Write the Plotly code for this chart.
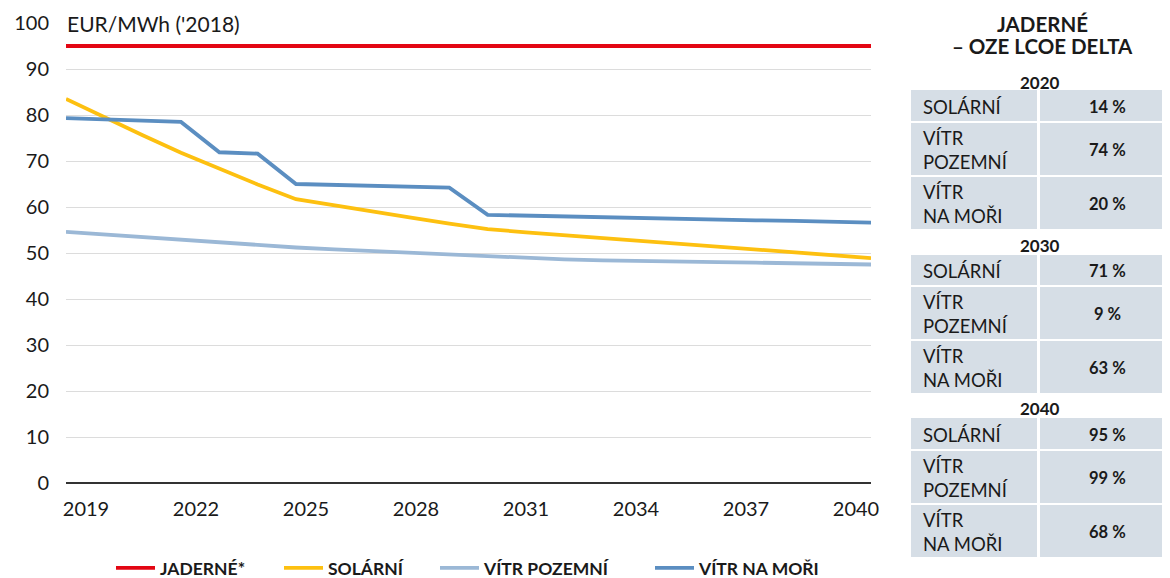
import plotly.graph_objects as go

years = list(range(2019, 2041))
nuclear = [95] * 22
solar = [83.5, 79.5, 75.6, 71.8, 68.3, 64.9, 61.7, 60.3, 59.0, 57.7, 56.4, 55.2,
         54.5, 53.9, 53.2, 52.6, 52.0, 51.3, 50.7, 50.1, 49.5, 48.9]
wind_on = [54.6, 54.0, 53.4, 52.8, 52.2, 51.7, 51.2, 50.8, 50.4, 50.0, 49.6, 49.2,
           48.9, 48.6, 48.4, 48.2, 48.1, 48.0, 47.9, 47.8, 47.7, 47.5]
wind_off = [79.3, 79.0, 78.8, 78.5, 71.9, 71.6, 65.0, 64.8, 64.6, 64.4, 64.2, 58.3,
            58.1, 58.0, 57.8, 57.6, 57.5, 57.3, 57.1, 57.0, 56.8, 56.6]
tick_years = list(range(2019, 2041, 3))

table_title = ["JADERNÉ", "– OZE LCOE DELTA"]
table_years = ["2020", "2030", "2040"]
table_rows = ["SOLÁRNÍ", "VÍTR<br>POZEMNÍ", "VÍTR<br>NA MOŘI"]
table_values = [["14 %", "74 %", "20 %"],
                ["71 %", "9 %", "63 %"],
                ["95 %", "99 %", "68 %"]]

# page offset (body margin) = 8 px
OFF = 8
SL, SR, ST, SB = 66, 871, 23, 483        # plot area in screen pixels
W, H = 1170 - OFF, 578 - OFF


def px(x):
    return (x - SL) / (SR - SL)


def py(y):
    return (SB - y) / (SB - ST)


FONT = "Lato"
TXT = "#1a1a1a"

fig = go.Figure()
series = [
    ("JADERNÉ*", nuclear, "#e30613"),
    ("SOLÁRNÍ", solar, "#fdc010"),
    ("VÍTR POZEMNÍ", wind_on, "#9bb8d6"),
    ("VÍTR NA MOŘI", wind_off, "#5b8ec1"),
]
legend_names = ["legend", "legend2", "legend3", "legend4"]
legend_x = [111, 279, 435, 650]
for (name, vals, col), lg in zip(series, legend_names):
    fig.add_trace(go.Scatter(x=years, y=vals, name=name, mode="lines", legend=lg,
                             line=dict(color=col, width=3.8), hoverinfo="skip"))

# invisible trace for the label axis
fig.add_trace(go.Scatter(x=[tick_years[0]], y=[None], xaxis="x2", showlegend=False,
                         hoverinfo="skip", mode="lines"))

shapes = []
annotations = []

annotations.append(dict(x=px(SL - 3), y=py(24), xref="paper", yref="paper", text="EUR/MWh ('2018)",
                        showarrow=False, xanchor="left", yanchor="middle", bgcolor="white",
                        borderpad=3, font=dict(family=FONT, size=21, color=TXT)))

# table
for i, (t, yy) in enumerate(zip(table_title, [24, 46])):
    annotations.append(dict(x=px(1042), y=py(yy), xref="paper", yref="paper", text="<b>" + t + "</b>",
                            showarrow=False, xanchor="center", yanchor="middle",
                            font=dict(family=FONT, size=20.5, color=TXT)))
header_y = [82, 245, 408]
row_tops = [[90, 123, 177], [255, 287, 341], [418, 451, 505]]
row_bots = [[121, 175, 229], [285, 339, 393], [449, 503, 557]]
fill = "#d6dee6"
for g in range(3):
    annotations.append(dict(x=px(1040), y=py(header_y[g]), xref="paper", yref="paper",
                            text="<b>" + table_years[g] + "</b>", showarrow=False,
                            xanchor="center", yanchor="middle",
                            font=dict(family=FONT, size=17, color=TXT)))
    for r in range(3):
        t, b = row_tops[g][r], row_bots[g][r]
        for x0, x1 in [(911, 1037), (1040, 1172)]:
            shapes.append(dict(type="rect", xref="paper", yref="paper", x0=px(x0), x1=px(x1),
                               y0=py(b), y1=py(t), fillcolor=fill, line=dict(width=0), layer="below"))
        annotations.append(dict(x=px(921), y=py((t + b) / 2 + 1), xref="paper", yref="paper",
                                text=table_rows[r], showarrow=False, xanchor="left", yanchor="middle",
                                align="left", font=dict(family=FONT, size=18.5, color=TXT)))
        annotations.append(dict(x=px(1107), y=py((t + b) / 2 + 1), xref="paper", yref="paper",
                                text="<b>" + table_values[g][r] + "</b>", showarrow=False,
                                xanchor="center", yanchor="middle",
                                font=dict(family=FONT, size=16.5, color=TXT)))

legend_style = dict(orientation="h", yanchor="middle", xanchor="left", itemwidth=39,
                    bgcolor="rgba(0,0,0,0)",
                    font=dict(family=FONT, size=17.5, color=TXT, weight="bold"))
legend_layout = {}
for lg, lx in zip(legend_names, legend_x):
    legend_layout[lg] = dict(legend_style, x=px(lx), y=py(568))

fig.update_layout(
    width=W, height=H,
    margin=dict(l=SL - OFF, r=W - (SR - OFF), t=ST - OFF, b=H - (SB - OFF), autoexpand=False),
    paper_bgcolor="white", plot_bgcolor="white",
    font=dict(family=FONT, size=20, color=TXT),
    showlegend=True,
    xaxis=dict(range=[2019, 2040], showticklabels=False, showgrid=False, zeroline=False,
               showline=False, fixedrange=True, automargin=False),
    xaxis2=dict(overlaying="x", side="bottom", anchor="y",
                range=[2019 - 20 / 36.67, 2040 + 15 / 36.67],
                tickvals=tick_years, ticktext=[str(v) for v in tick_years],
                showgrid=False, zeroline=False, showline=False, automargin=False,
                ticks="outside", ticklen=8, tickcolor="rgba(0,0,0,0)",
                tickfont=dict(family=FONT, size=20, color=TXT)),
    yaxis=dict(range=[0, 100], tickvals=list(range(0, 101, 10)), showgrid=True,
               gridcolor="#dcdcdc", gridwidth=1, zeroline=True, zerolinecolor="#333333",
               zerolinewidth=2, showline=False, ticks="outside", ticklen=12, automargin=False,
               tickcolor="rgba(0,0,0,0)", tickfont=dict(family=FONT, size=20, color=TXT)),
    shapes=shapes,
    annotations=annotations,
    **legend_layout,
)

fig.write_html("out.html")
